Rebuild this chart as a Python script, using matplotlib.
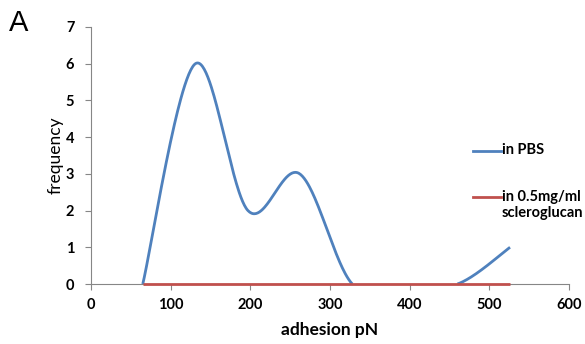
import numpy as np
import matplotlib
matplotlib.use("Agg")
import matplotlib.pyplot as plt
from matplotlib.lines import Line2D

# data
adhesion = [65, 131, 197, 262, 328, 394, 460, 526]
pbs = [0, 6, 2, 3, 0, 0, 0, 1]
sclero = [0, 0, 0, 0, 0, 0, 0, 0]
xticks = [0, 100, 200, 300, 400, 500, 600]
yticks = [0, 1, 2, 3, 4, 5, 6, 7]
labels = ['in PBS', 'in 0.5mg/ml\nscleroglucan']
colors = ['#4F81BD', '#C0504D']

def smooth(xs, ys, n=60):
    xs = np.asarray(xs, float); ys = np.asarray(ys, float)
    P = np.column_stack([xs, ys])
    out = []
    m = len(P)
    for i in range(m - 1):
        p0 = P[i - 1] if i > 0 else P[i]
        p1 = P[i]; p2 = P[i + 1]
        p3 = P[i + 2] if i + 2 < m else P[i + 1]
        c1 = p1 + (p2 - p0) / 6.0
        c2 = p2 - (p3 - p1) / 6.0
        t = np.linspace(0, 1, n)[:, None]
        seg = (1 - t) ** 3 * p1 + 3 * (1 - t) ** 2 * t * c1 + 3 * (1 - t) * t ** 2 * c2 + t ** 3 * p2
        out.append(seg if i == 0 else seg[1:])
    out = np.vstack(out)
    y = out[:, 1].copy()
    # hide the parts that fall below the axis (clipped by the plot area)
    y[y < -1e-9] = np.nan
    return out[:, 0], y

plt.rcParams['font.family'] = ['Lato', 'DejaVu Sans']
fig = plt.figure(figsize=(5.85, 3.44), dpi=100)
ax = fig.add_axes([91/585, 1-284/344, (569-91)/585, (284-27)/344])

for k, (ys, c) in enumerate(zip([pbs, sclero], colors)):
    x_, y_ = smooth(adhesion, ys)
    ax.plot(x_, y_, color=c, lw=2.0, clip_on=False, solid_capstyle='butt', zorder=3 + k)

ax.set_xlim(0, 600)
ax.set_ylim(0, 7)
ax.set_xticks(xticks)
ax.set_yticks(yticks)
for s in ['top', 'right']:
    ax.spines[s].set_visible(False)
for s in ['left', 'bottom']:
    ax.spines[s].set_color('#868686')
    ax.spines[s].set_linewidth(0.8)
ax.tick_params(axis='both', colors='#868686', length=4, width=0.8, labelcolor='black', labelsize=10.5)
ax.tick_params(axis='x', pad=6)
ax.tick_params(axis='y', pad=8)
for lab in ax.get_xticklabels() + ax.get_yticklabels():
    lab.set_fontweight('bold')
ax.set_xlabel('adhesion pN', fontsize=12.5, fontweight='bold', labelpad=7)
ax.set_ylabel('frequency', fontsize=12.5, labelpad=1.5)

# manual legend
ly = [151, 197]
for lab, c, yy in zip(labels, colors, ly):
    fig.add_artist(Line2D([473/585, 501/585], [1-yy/344, 1-yy/344], color=c, lw=2.0,
                          transform=fig.transFigure))
    fig.text(502/585, 1-(yy-7.5)/344, lab, fontsize=10.5, fontweight='bold', va='top', ha='left',
             linespacing=1.2)

fig.text(9/585, 1-23/344, 'A', fontsize=21, family='Liberation Sans', va='center', ha='left')

fig.savefig('out.png', dpi=100)
